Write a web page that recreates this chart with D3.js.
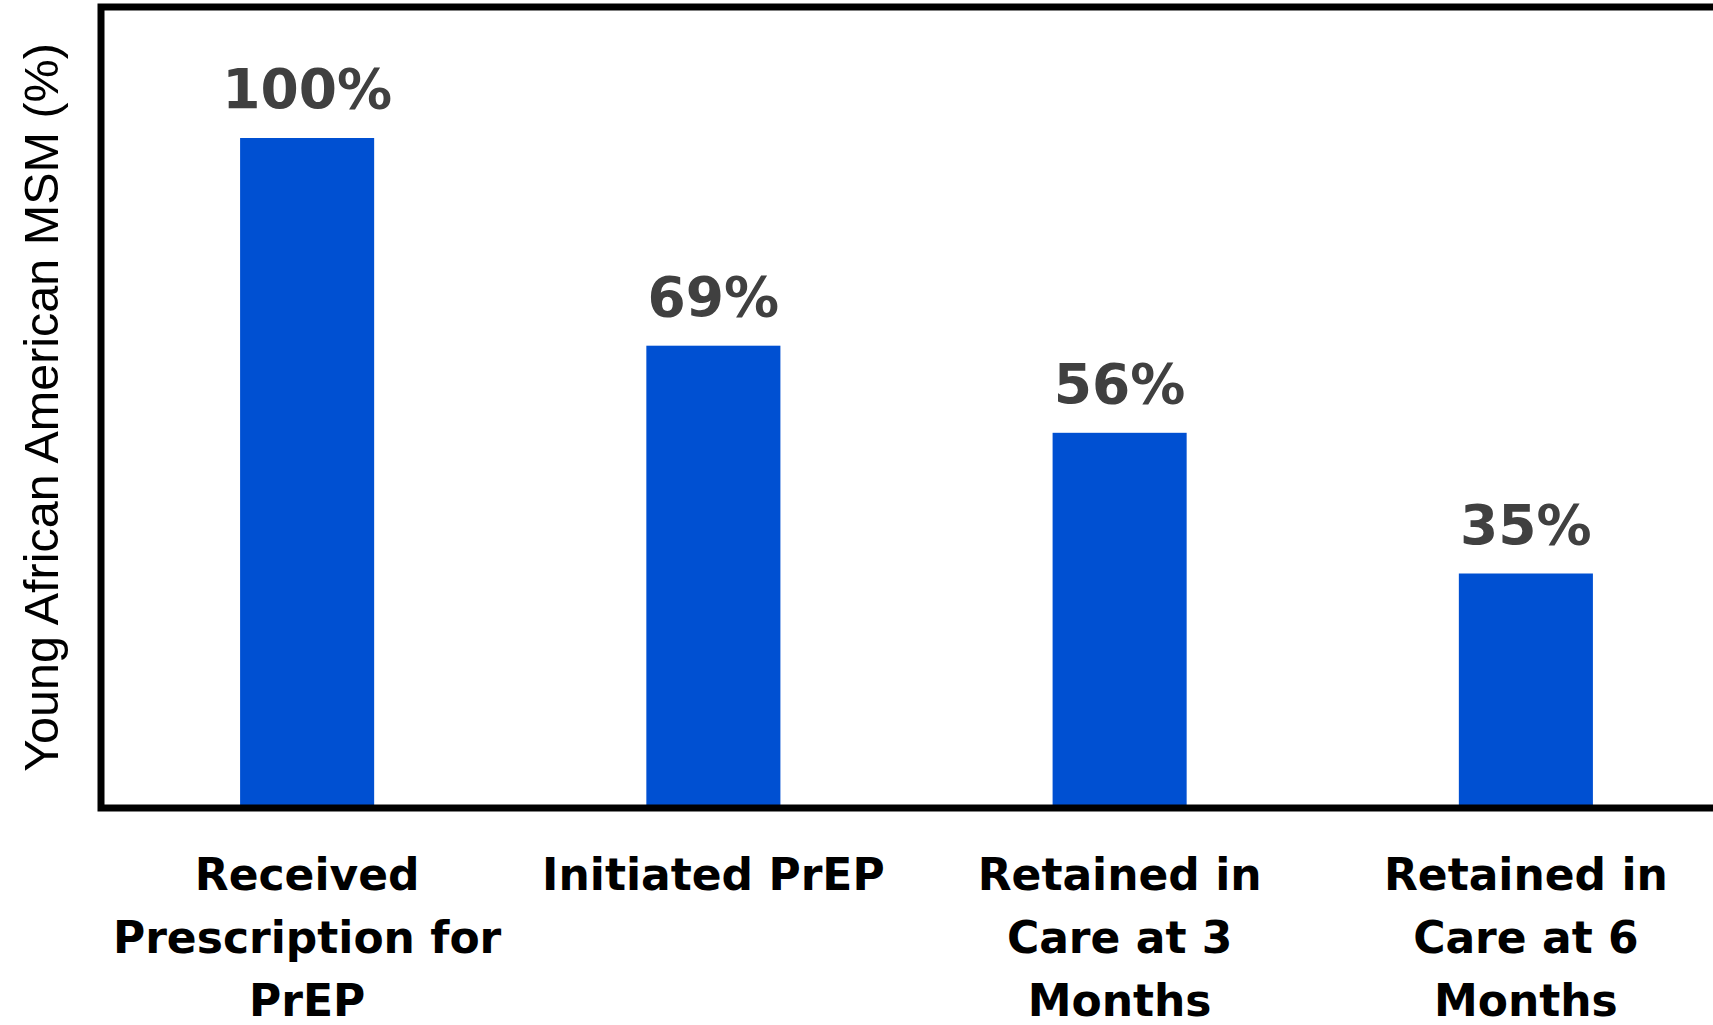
<!DOCTYPE html>
<html>
<head>
<meta charset="utf-8">
<script src="https://cdn.jsdelivr.net/npm/d3@7"></script>
<style>
  html, body { margin: 0; padding: 0; background: #fff; overflow: hidden; }
</style>
</head>
<body>
<svg id="main"></svg>
<script>
const width = 1713;
const height = 1025;

// data
const categories = ['Received Prescription for PrEP', 'Initiated PrEP', 'Retained in Care at 3 Months', 'Retained in Care at 6 Months'];
const categoryLines = [
    ['Received', 'Prescription for', 'PrEP'],
    ['Initiated PrEP'],
    ['Retained in', 'Care at 3', 'Months'],
    ['Retained in', 'Care at 6', 'Months']
];
const values = [100, 69, 56, 35];
const valueLabels = ['100%', '69%', '56%', '35%'];
const yTitle = 'Young African American MSM (%)';

const plot = { left: 101, top: 7, right: 1729, bottom: 808 };

const mainSvg = d3.select('#main').attr('width', width).attr('height', height);

// scales
const xScale = d3
    .scaleBand()
    .domain(categories)
    .range([plot.left + 3, plot.right])
    .paddingInner(0.67)
    .paddingOuter(0.335);
const yScale = d3
    .scaleLinear()
    .domain([0, 100])
    .range([plot.bottom, 138]);

// bars
mainSvg
    .append('g')
    .selectAll('rect')
    .data(values)
    .join('rect')
    .attr('fill', '#0050d2')
    .attr('x', (d, i) => xScale(categories[i]))
    .attr('width', xScale.bandwidth())
    .attr('y', d => yScale(d))
    .attr('height', d => yScale(0) - yScale(d));

// value labels
mainSvg
    .append('g')
    .selectAll('text')
    .data(values)
    .join('text')
    .attr('x', (d, i) => xScale(categories[i]) + xScale.bandwidth() / 2)
    .attr('y', d => yScale(d) - 30)
    .attr('text-anchor', 'middle')
    .attr('font-family', 'DejaVu Sans')
    .attr('font-weight', 'bold')
    .attr('font-size', 55)
    .attr('fill', '#404040')
    .text((d, i) => valueLabels[i]);

// frame
mainSvg
    .append('rect')
    .attr('x', plot.left)
    .attr('y', plot.top)
    .attr('width', plot.right - plot.left)
    .attr('height', plot.bottom - plot.top)
    .attr('fill', 'none')
    .attr('stroke', '#000')
    .attr('stroke-width', 7);

// category labels
const catGroup = mainSvg
    .append('g')
    .selectAll('text')
    .data(categoryLines)
    .join('text')
    .attr('text-anchor', 'middle')
    .attr('font-family', 'DejaVu Sans')
    .attr('font-weight', 'bold')
    .attr('font-size', 44)
    .attr('fill', '#000');
catGroup
    .selectAll('tspan')
    .data((d, i) => d.map(line => ({ line, cat: categories[i] })))
    .join('tspan')
    .attr('x', d => xScale(d.cat) + xScale.bandwidth() / 2)
    .attr('y', (d, j) => 890 + j * 63)
    .text(d => d.line);

// y title
mainSvg
    .append('text')
    .attr('transform', `translate(58, ${(plot.top + plot.bottom) / 2}) rotate(-90)`)
    .attr('text-anchor', 'middle')
    .attr('font-family', 'Liberation Sans')
    .attr('font-size', 48.5)
    .attr('fill', '#000')
    .text(yTitle);
</script>
</body>
</html>
